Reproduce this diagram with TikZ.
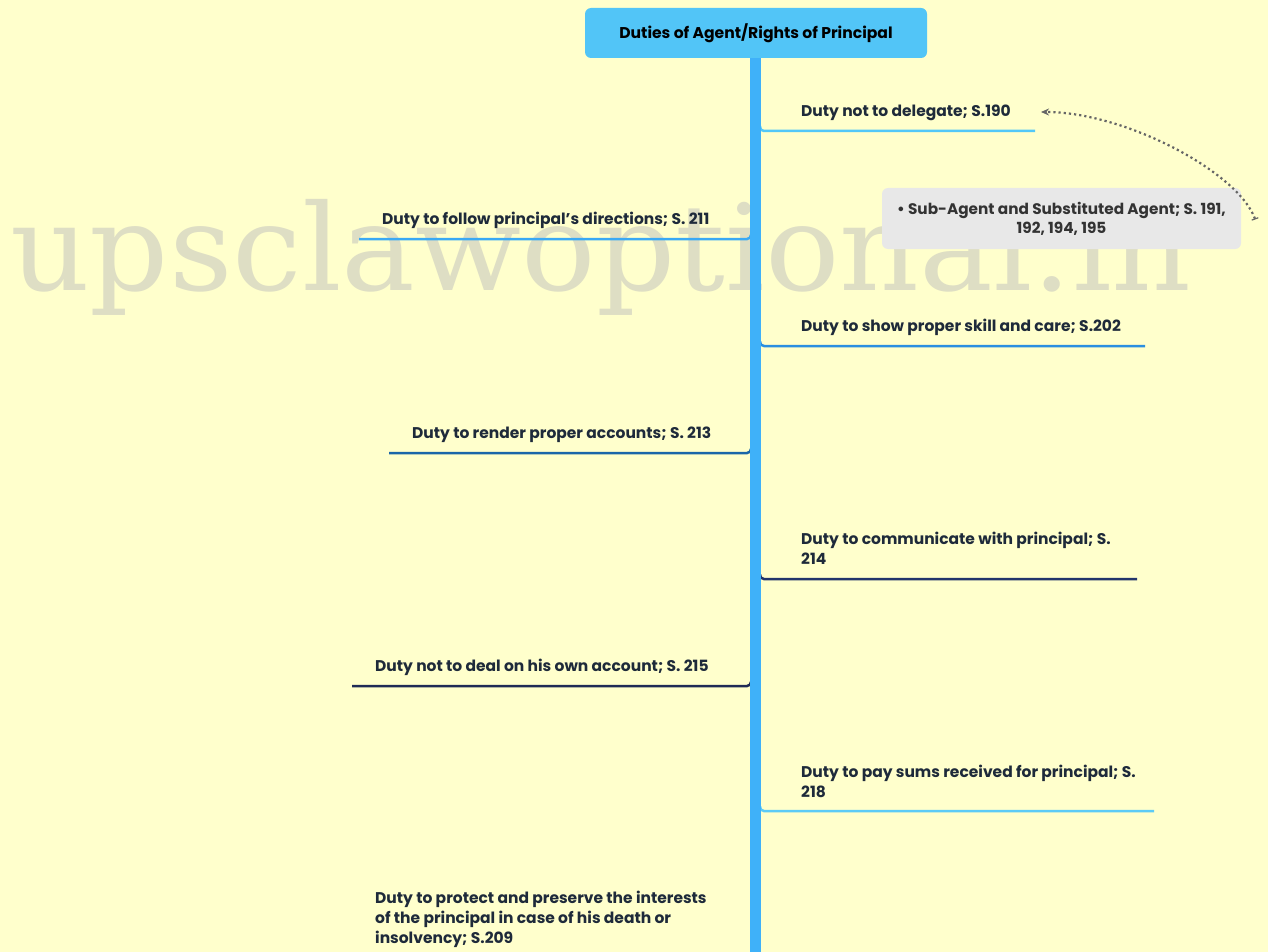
\documentclass[tikz,border=0pt]{standalone}
\usepackage{fontspec}
\usepackage{graphicx}
\setmainfont{Poppins}
\newfontfamily\wmfont{DejaVu Serif}
\usetikzlibrary{arrows.meta}
\definecolor{bg}{HTML}{FFFFCC}
\definecolor{wm}{HTML}{DEDEC4}
\definecolor{trunkc}{HTML}{3FB1F9}
\definecolor{titlec}{HTML}{52C5F7}
\definecolor{txt}{HTML}{1E2A3A}
\definecolor{c1}{HTML}{52C8F8}
\definecolor{c2}{HTML}{3AA9F4}
\definecolor{c3}{HTML}{2A8FE0}
\definecolor{c4}{HTML}{1A66A8}
\definecolor{c5}{HTML}{22356B}
\definecolor{c6}{HTML}{1F2B55}
\definecolor{c7}{HTML}{5CCBF6}
\definecolor{subc}{HTML}{E8E8E8}
\definecolor{subt}{HTML}{333333}
\definecolor{relc}{HTML}{666666}
\tikzset{
  titlebox/.style={fill=titlec, rounded corners=6pt, minimum width=342pt, minimum height=50pt,
    font=\bfseries\fontsize{15.6}{18}\selectfont, text=black},
  trunkline/.style={draw=trunkc, line width=11pt},
  branch/.style={line width=2.5pt, rounded corners=4pt},
  lab/.style={anchor=base west, inner sep=0pt, text=txt, align=left,
    font=\bfseries\fontsize{15.5}{19.8}\selectfont},
  subbox/.style={fill=subc, rounded corners=6pt, minimum width=359pt, minimum height=61pt,
    text=subt, align=center, font=\bfseries\fontsize{15.3}{19}\selectfont},
  rel/.style={draw=relc, line width=2.2pt, dash pattern=on 2.2pt off 3pt,
    {Bar[width=7pt,line width=1.2pt]}-{Stealth[length=8pt,width=7pt]}}
}
\begin{document}
\begin{tikzpicture}[x=1pt,y=-1pt]
\useasboundingbox[fill=bg] (0,0) rectangle (1268,952);
% watermark
\node[anchor=base west, inner sep=0pt, text=wm] (wmark) at (10,290)
  {\resizebox*{1180pt}{116pt}{\wmfont upsclawoptional.in}};
% branch lines
\coordinate (b1s) at (760,126); \coordinate (b1e) at (1035,131);
\coordinate (b2s) at (751,234); \coordinate (b2e) at (359,239);
\coordinate (b3s) at (760,341); \coordinate (b3e) at (1145,346);
\coordinate (b4s) at (751,448); \coordinate (b4e) at (389,453);
\coordinate (b5s) at (760,574); \coordinate (b5e) at (1137,579);
\coordinate (b6s) at (751,681); \coordinate (b6e) at (352,686);
\coordinate (b7s) at (760,806); \coordinate (b7e) at (1154,811);
\draw[branch, c1] (b1s) |- (b1e);
\draw[branch, c2] (b2s) |- (b2e);
\draw[branch, c3] (b3s) |- (b3e);
\draw[branch, c4] (b4s) |- (b4e);
\draw[branch, c5] (b5s) |- (b5e);
\draw[branch, c6] (b6s) |- (b6e);
\draw[branch, c7] (b7s) |- (b7e);
% title and trunk
\node[titlebox] (title) at (756,33) {Duties of Agent/Rights of Principal};
\coordinate (trunkend) at (755.5,952);
\draw[trunkline] (title.south -| trunkend) -- (trunkend);
% labels
\node[lab] (n1) at (801,117) {Duty not to delegate; S.190};
\node[lab] (n2) at (382,224) {Duty to follow principal’s directions; S. 211};
\node[lab] (n3) at (801,331) {Duty to show proper skill and care; S.202};
\node[lab] (n4) at (412,438) {Duty to render proper accounts; S. 213};
\node[lab] (n5) at (801,564) {Duty to communicate with principal; S.\\214};
\node[lab] (n6) at (375,671) {Duty not to deal on his own account; S. 215};
\node[lab] (n7) at (801,797) {Duty to pay sums received for principal; S.\\218};
\node[lab] (n8) at (375,943) {Duty to protect and preserve the interests\\of the principal in case of his death or\\insolvency; S.209};
% sub-topic
\node[subbox] (sub) at (1061.5,218.5) {• Sub-Agent and Substituted Agent; S. 191,\\192, 194, 195};
\coordinate (relstart) at ([xshift=14pt,yshift=-1pt]sub.east);
\coordinate (relend) at (1041,112);
\draw[rel] (relstart) .. controls (1238,172) and (1125,112) .. (relend);
\end{tikzpicture}
\end{document}
